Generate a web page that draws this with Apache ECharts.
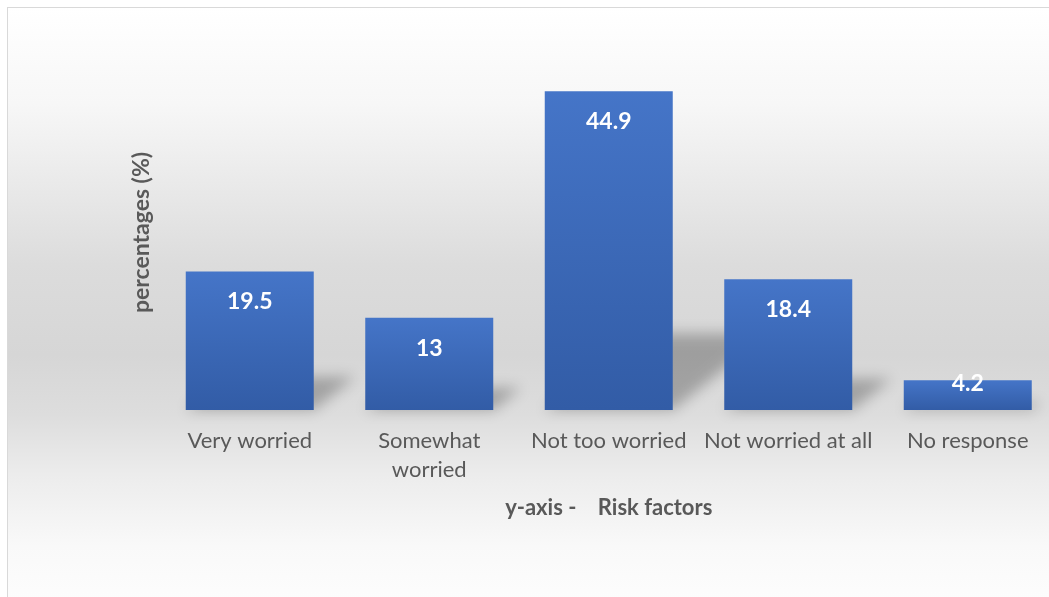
<!DOCTYPE html>
<html>
<head>
<meta charset="utf-8">
<script src="https://cdn.jsdelivr.net/npm/echarts@6/dist/echarts.min.js"></script>
<style>
  html, body { margin: 0; padding: 0; width: 1049px; height: 597px; overflow: hidden; background: #ffffff; }
  #chart { position: absolute; left: 7px; top: 7px; width: 1060px; height: 600px;
           border: 1px solid #d9d9d9; box-sizing: border-box; }
</style>
</head>
<body>
<div id="chart"></div>
<script>
// Worry levels and their share of respondents
const categories = ['Very worried', 'Somewhat\nworried', 'Not too worried', 'Not worried at all', 'No response'];
const percentages = [19.5, 13, 44.9, 18.4, 4.2];
const xAxisTitle = 'y-axis -    Risk factors';
const yAxisTitle = 'percentages (%)';

const FONT = 'Lato, "Open Sans", sans-serif';
const BAR_WIDTH = 128;

const chart = echarts.init(document.getElementById('chart'), null, { renderer: 'canvas' });

// Perspective shadow cast behind each bar, leaning up and to the right
function renderShadow(params, api) {
  const cat = api.value(0);
  const val = api.value(1);
  const base = api.coord([cat, 0]);
  const top = api.coord([cat, val]);
  const h = base[1] - top[1];
  const xL = base[0] - BAR_WIDTH / 2;
  const xR = base[0] + BAR_WIDTH / 2;
  const y0 = base[1];
  const dx = 0.3 * h;
  const dy = 0.24 * h;
  const far = 3000; // shape is drawn off-canvas, only its blurred shadow lands here
  return {
    type: 'polygon',
    shape: {
      points: [
        [xL - far, y0],
        [xR - far, y0],
        [xR + dx - far, y0 - dy],
        [xL + dx - far, y0 - dy]
      ]
    },
    style: {
      fill: 'rgba(0,0,0,1)',
      shadowBlur: 14,
      shadowColor: 'rgba(0,0,0,0.26)',
      shadowOffsetX: far,
      shadowOffsetY: 0
    },
    silent: true
  };
}

const shadowData = percentages.map((v, i) => [i, v]);

const barData = percentages.map((v, i) => {
  const item = { value: v };
  if (v < 6) {
    item.label = { offset: [0, -27] };
  }
  return item;
});

chart.setOption({
  animation: false,
  backgroundColor: {
    type: 'linear', x: 0, y: 0, x2: 0, y2: 1,
    colorStops: [
      { offset: 0, color: '#ffffff' },
      { offset: 0.16, color: '#f7f7f7' },
      { offset: 0.43, color: '#dcdcdc' },
      { offset: 0.58, color: '#d6d6d6' },
      { offset: 0.68, color: '#dddddd' },
      { offset: 0.78, color: '#ececec' },
      { offset: 0.9, color: '#f9f9f9' },
      { offset: 1, color: '#fdfdfd' }
    ]
  },
  grid: { left: 152, top: 47, width: 897.5, height: 355, containLabel: false },
  xAxis: {
    type: 'category',
    data: categories,
    axisLine: { show: false },
    axisTick: { show: false },
    axisLabel: {
      color: '#595959', fontFamily: FONT, fontSize: 22, lineHeight: 29, margin: 16,
      interval: 0
    },
    name: xAxisTitle,
    nameLocation: 'middle',
    nameGap: 87,
    nameTextStyle: { color: '#595959', fontFamily: FONT, fontSize: 22, fontWeight: 'bold' }
  },
  yAxis: {
    type: 'value',
    min: 0, max: 50, interval: 10,
    axisLine: { show: false },
    axisTick: { show: false },
    axisLabel: { show: false },
    splitLine: { show: false },
    name: yAxisTitle,
    nameLocation: 'middle',
    nameGap: 7,
    nameRotate: 90,
    nameTextStyle: { color: '#595959', fontFamily: FONT, fontSize: 23, fontWeight: 'bold' }
  },
  series: [
    {
      type: 'custom',
      renderItem: renderShadow,
      data: shadowData,
      encode: { x: 0, y: 1 },
      z: 1,
      clip: false
    },
    {
      type: 'bar',
      data: barData,
      barWidth: BAR_WIDTH,
      z: 2,
      itemStyle: {
        color: {
          type: 'linear', x: 0, y: 0, x2: 0, y2: 1,
          colorStops: [
            { offset: 0, color: '#4575c8' },
            { offset: 1, color: '#325ca6' }
          ]
        }
      },
      label: {
        show: true,
        position: 'insideTop',
        distance: 19,
        color: '#ffffff',
        fontFamily: FONT,
        fontSize: 23,
        fontWeight: 'bold'
      }
    }
  ]
});
</script>
</body>
</html>
